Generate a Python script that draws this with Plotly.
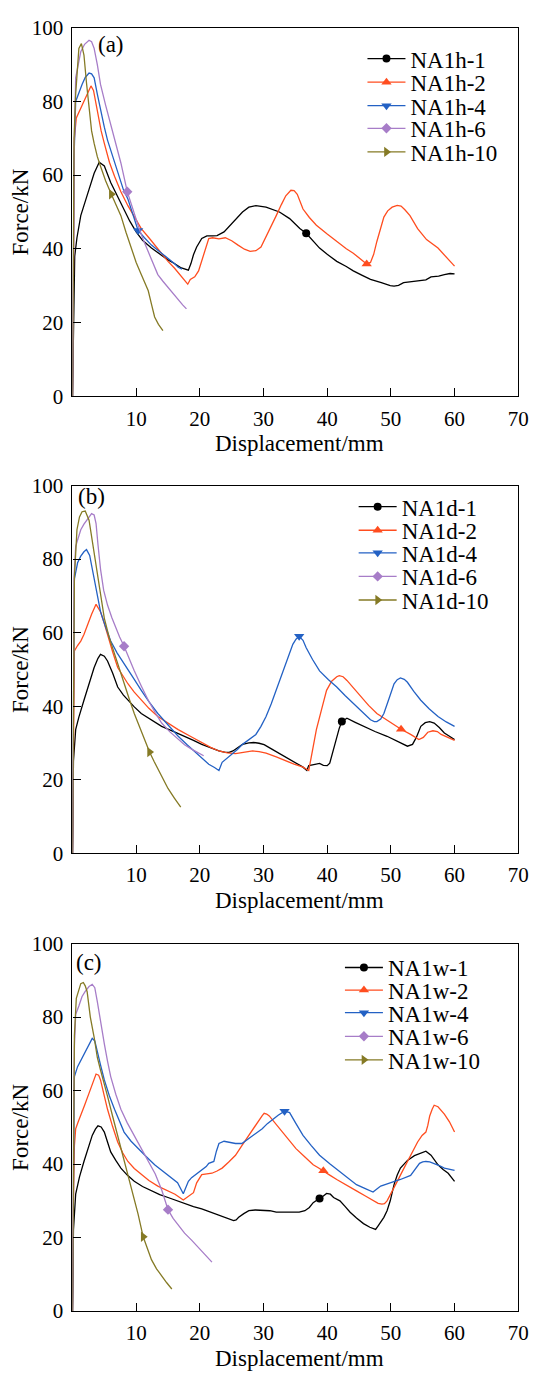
import plotly.graph_objects as go

# ---------------- data ----------------
panel_labels = ["(a)", "(b)", "(c)"]
names_a = ["NA1h-1", "NA1h-2", "NA1h-4", "NA1h-6", "NA1h-10"]
names_b = ["NA1d-1", "NA1d-2", "NA1d-4", "NA1d-6", "NA1d-10"]
names_c = ["NA1w-1", "NA1w-2", "NA1w-4", "NA1w-6", "NA1w-10"]

x_ticks = [10, 20, 30, 40, 50, 60, 70]
y_ticks = [0, 20, 40, 60, 80, 100]

# Panel (a)
a1_x = [0, 0.15, 0.35, 0.7, 1.3, 2.3, 3.4, 4.2, 5.0, 6.0, 7.0, 8.1, 9.0, 10.0, 11.0, 12.4, 13.5, 15.0, 16.0, 17.1, 18.2, 18.6, 19.0, 19.5, 20.3, 21.1, 22.0, 22.7, 23.8, 24.8, 25.6, 26.7, 27.7, 28.8, 30.4, 32.5, 34.1, 35.7, 36.7, 37.8, 38.8, 40.0, 41.5, 43.0, 44.1, 45.5, 46.8, 48.5, 49.9, 50.5, 51.2, 52.0, 53.5, 54.7, 55.5, 56.3, 57.5, 58.4, 59.3, 60.0]
a1_y = [0, 20, 38, 43, 49, 54.5, 60.5, 63.5, 62.5, 58, 54.5, 50.8, 47.5, 44.6, 42.3, 40.2, 38.8, 37, 36, 34.8, 34.2, 36, 38.4, 40.5, 42.8, 43.5, 43.5, 43.6, 44.6, 46.5, 48.2, 50, 51.3, 51.7, 51.3, 50, 48.2, 45.5, 44.2, 42, 40.2, 38.5, 36.6, 35.2, 34, 32.8, 31.7, 30.8, 30, 29.9, 30.1, 30.8, 31.2, 31.5, 31.6, 32.4, 32.6, 33, 33.3, 33.2]
a2_x = [0, 0.15, 0.3, 0.6, 1.0, 1.8, 2.4, 2.9, 3.3, 3.9, 4.5, 5.0, 5.8, 6.6, 7.6, 8.7, 9.8, 10.8, 12.0, 12.9, 14.0, 15.0, 16.0, 17.1, 18.1, 18.5, 19.2, 19.8, 20.3, 20.8, 21.4, 22.0, 23.0, 24.0, 25.0, 26.0, 27.0, 27.9, 28.8, 29.6, 30.4, 31.2, 32.0, 32.8, 33.5, 34.3, 34.8, 35.3, 36.2, 37.2, 38.3, 40.0, 41.5, 43.0, 44.1, 45.2, 46.2, 46.8, 47.3, 47.8, 48.4, 48.9, 49.5, 50.2, 51.0, 51.6, 52.2, 53.0, 54.2, 55.6, 57.4, 58.8, 60.0]
a2_y = [0, 35, 70, 75.5, 77, 79.7, 82, 84.2, 83, 77.5, 72, 68.6, 63.5, 59.7, 55.5, 51.7, 48.5, 45.5, 43, 41, 38.8, 36.6, 34.8, 32.6, 30.4, 31.7, 32.4, 34, 36.6, 39.5, 42.8, 43, 42.7, 43, 42.2, 41, 39.9, 39.3, 39.5, 40.5, 43.2, 46, 49, 52, 54.4, 55.9, 55.8, 54.8, 50.8, 48.5, 46.4, 44, 42, 40, 38.8, 37.3, 35.9, 36.3, 38.5, 42, 45.5, 48.6, 50.3, 51.3, 51.8, 51.6, 50.6, 49, 45.5, 42.5, 40.2, 37.7, 35.3]
a4_x = [0, 0.1, 0.25, 0.5, 1.0, 1.5, 2.0, 2.6, 3.0, 3.4, 3.9, 4.4, 5.0, 5.5, 6.3, 7.1, 8.0, 8.7, 9.5, 10.3, 11.3, 12.4, 13.5, 15.0, 16.0, 16.6, 17.2]
a4_y = [0, 30, 65, 80, 82.5, 84.6, 86.5, 87.7, 87.5, 86.4, 82, 77.5, 73, 69.5, 65, 60.6, 56, 53.5, 49, 45, 43, 41, 39.5, 37.5, 36, 35, 34.5]
a6_x = [0, 0.1, 0.3, 0.5, 0.9, 1.3, 1.9, 2.6, 3.0, 3.4, 3.9, 4.4, 5.2, 6.0, 6.8, 7.6, 8.6, 9.4, 10.3, 11.1, 11.9, 12.6, 13.4, 14.2, 15.0, 15.8, 16.6, 17.3, 17.9]
a6_y = [0, 30, 70, 86.4, 90.5, 93.5, 95.5, 96.6, 96.2, 94.4, 90, 84.6, 79, 74, 68.5, 63.3, 55.5, 51, 46.4, 42.5, 39.3, 36, 33, 31.2, 29.5, 28, 26, 24.8, 23.7]
a10_x = [0, 0.1, 0.25, 0.5, 0.8, 1.0, 1.4, 1.8, 2.2, 2.6, 3.0, 3.4, 3.9, 4.4, 5.2, 6.1, 7.6, 8.4, 9.2, 10.0, 10.8, 11.4, 11.9, 12.4, 12.9, 13.5, 14.2]
a10_y = [0, 35, 70, 82, 90, 94.4, 95.7, 92.6, 85, 77.5, 72, 68.6, 65, 62.4, 58.5, 54.8, 49, 44.5, 40.2, 36.3, 33, 30.8, 28.6, 25, 21.5, 19.5, 17.8]

# Panel (b)
b1_x = [0, 0.15, 0.5, 1.0, 1.8, 2.6, 3.4, 4.0, 4.4, 5.0, 5.5, 6.3, 7.1, 8.0, 8.7, 9.7, 10.8, 12.4, 14.0, 16.0, 17.7, 19.0, 20.3, 21.7, 23.0, 24.0, 24.6, 25.2, 25.6, 26.2, 26.7, 27.7, 28.5, 29.3, 30.1, 30.9, 32.2, 33.5, 34.8, 36.2, 36.8, 37.1, 37.7, 38.3, 38.8, 39.4, 40.0, 40.4, 40.7, 41.1, 41.5, 41.9, 42.3, 43.1, 44.4, 45.7, 47.5, 49.4, 51.0, 52.6, 53.4, 54.0, 54.7, 55.4, 56.1, 56.8, 57.6, 58.4, 59.2, 60.0]
b1_y = [0, 25, 33.6, 37, 41.6, 46, 50.5, 53, 54.1, 53.6, 52.3, 49, 45.2, 43, 41.6, 39.8, 38, 36.2, 34.5, 33, 31.8, 30.7, 29.6, 28.6, 27.8, 27.4, 27.4, 27.8, 28.3, 29, 29.6, 30, 30.1, 29.9, 29.5, 28.7, 27.4, 26, 24.7, 23.4, 22.5, 23.8, 24, 24.2, 24.4, 23.9, 23.8, 24.5, 26.5, 29, 31.8, 34, 35.8, 36.7, 35.6, 34.5, 33.1, 31.8, 30.5, 29.1, 29.6, 31.5, 34.5, 35.5, 35.8, 35.4, 34.2, 32.7, 31.8, 30.9]
b2_x = [0, 0.1, 0.3, 0.8, 1.3, 1.8, 2.3, 3.0, 3.7, 4.4, 5.0, 5.5, 6.3, 7.1, 8.0, 8.7, 9.7, 10.8, 12.0, 13.4, 15.0, 16.6, 18.5, 20.3, 21.7, 23.0, 24.3, 25.6, 27.0, 28.3, 29.3, 30.4, 32.0, 33.5, 34.8, 36.2, 37.1, 37.7, 38.3, 39.1, 39.9, 40.7, 41.5, 41.9, 42.5, 43.1, 44.2, 45.2, 46.5, 47.8, 49.6, 51.6, 53.1, 54.4, 55.1, 55.8, 56.6, 57.3, 57.9, 59.0, 60.0]
b2_y = [0, 30, 55, 56.5, 57.7, 59.5, 62, 65, 67.7, 65.7, 62.5, 59.4, 54.8, 50.5, 48, 46.1, 43.8, 41.6, 39.4, 37.2, 35.4, 33.6, 31.8, 30, 28.8, 27.8, 27.3, 27.1, 27.5, 27.8, 27.6, 27.2, 26.2, 25.1, 24.2, 23.4, 22.5, 28, 33.6, 39, 44.3, 46.8, 48, 48.3, 48, 47, 44.8, 42.5, 40.2, 38, 36, 33.7, 32.3, 30.9, 31.5, 32.9, 33.3, 33.1, 32.3, 31.5, 30.7]
b4_x = [0, 0.1, 0.3, 0.8, 1.3, 1.8, 2.2, 2.7, 3.1, 3.7, 4.4, 5.2, 6.0, 7.0, 8.1, 9.5, 10.8, 12.0, 13.4, 15.0, 16.6, 18.0, 19.3, 20.4, 21.4, 22.3, 23.0, 23.5, 24.3, 25.1, 25.9, 26.7, 27.7, 28.8, 29.6, 30.4, 31.2, 32.0, 32.8, 33.5, 34.1, 34.6, 35.1, 35.6, 36.2, 36.7, 37.7, 38.8, 40.2, 41.5, 42.8, 44.1, 45.5, 46.8, 47.4, 47.8, 48.4, 48.9, 49.7, 50.5, 51.0, 51.5, 52.1, 52.6, 53.6, 54.7, 56.0, 57.4, 58.7, 60.0]
b4_y = [0, 35, 74.6, 79, 80.8, 82, 82.6, 81, 77.3, 71.5, 65.7, 61.5, 57.7, 54.5, 51.4, 47.8, 44.3, 41.2, 38, 34.8, 31.8, 29.5, 27.4, 25.8, 24.2, 23.3, 22.5, 24.7, 25.8, 26.9, 28.2, 29.6, 31, 32.3, 34.5, 37.2, 40.6, 44.3, 47.9, 51.4, 54.3, 56.8, 58.2, 59, 57.9, 55.9, 52.7, 49.6, 47.2, 45.2, 42.9, 40.7, 38.5, 36.3, 35.8, 35.8, 36.5, 38, 42, 46.1, 47.2, 47.7, 47.3, 46.5, 44, 41.6, 39.3, 37.2, 35.7, 34.5]
b6_x = [0, 0.1, 0.25, 0.5, 0.9, 1.3, 1.8, 2.3, 3.0, 3.4, 3.7, 4.0, 4.4, 4.9, 5.5, 6.2, 6.8, 7.4, 8.1, 8.9, 9.7, 10.8, 11.9, 13.0, 14.0, 15.3, 16.6, 17.6, 18.7, 19.7, 20.6]
b6_y = [0, 40, 75, 83.5, 86, 88, 89.5, 90.6, 92.4, 92, 89.7, 84, 77.3, 71.5, 67.5, 64, 61.2, 58.8, 56.3, 52.8, 49.6, 45.5, 41.6, 38.2, 35.4, 33, 30.9, 29.5, 28.3, 27.3, 26.5]
b10_x = [0, 0.1, 0.3, 0.7, 1.1, 1.5, 2.0, 2.6, 3.1, 3.7, 4.3, 5.0, 5.8, 6.6, 7.4, 8.1, 8.9, 9.7, 10.5, 11.3, 12.1, 12.8, 13.4, 14.2, 15.0, 16.0, 17.0]
b10_y = [0, 40, 75, 88, 91.5, 92.9, 93.1, 90.6, 85, 78.2, 71, 63.9, 58.5, 54.1, 50, 46.1, 42, 38, 34.5, 30.9, 27.5, 25, 22.9, 20.2, 17.6, 15, 12.5]

# Panel (c)
c1_x = [0, 0.15, 0.5, 1.1, 1.8, 2.5, 3.1, 3.6, 4.0, 4.5, 5.0, 5.5, 6.0, 6.8, 7.6, 8.6, 9.7, 11.0, 12.4, 13.7, 15.0, 16.4, 17.7, 19.0, 20.3, 21.7, 23.0, 24.2, 25.3, 25.7, 26.1, 26.9, 27.7, 28.7, 29.8, 31.0, 32.0, 33.3, 34.6, 35.6, 36.5, 37.2, 37.8, 38.3, 38.8, 39.4, 39.9, 40.5, 41.0, 42.0, 42.8, 43.6, 44.6, 45.7, 46.7, 47.6, 48.0, 48.4, 48.9, 49.4, 49.9, 50.5, 51.0, 51.5, 52.6, 53.7, 54.6, 55.5, 56.3, 56.9, 57.4, 58.2, 59.0, 60.0]
c1_y = [0, 22, 31.8, 36.5, 40.7, 44.5, 47.8, 49.5, 50.4, 50.1, 48.7, 46, 43.3, 41, 38.9, 37, 35.3, 33.9, 32.7, 31.7, 30.9, 30, 29.1, 28.4, 27.8, 26.9, 26, 25.3, 24.6, 24.8, 25.5, 26.5, 27.3, 27.5, 27.5, 27.3, 26.9, 26.8, 26.9, 26.9, 27.3, 28.2, 29.5, 30.1, 30.6, 31.3, 32, 31.8, 30.9, 30, 28.5, 26.9, 25.3, 23.8, 22.8, 22.2, 23.2, 24.2, 25.5, 27.3, 30, 34.4, 37, 38.9, 41, 42.3, 43, 43.5, 42.4, 41, 39.8, 38.5, 37.5, 35.3]
c2_x = [0, 0.1, 0.3, 0.5, 0.9, 1.3, 1.9, 2.6, 3.2, 3.7, 4.1, 4.4, 5.0, 5.5, 6.3, 7.1, 7.9, 8.7, 9.7, 10.8, 12.0, 13.4, 14.8, 16.1, 17.4, 18.2, 19.0, 19.5, 20.3, 21.1, 21.9, 22.7, 23.5, 24.5, 25.6, 26.6, 27.7, 28.5, 29.3, 29.8, 30.1, 30.5, 30.9, 31.7, 32.5, 33.8, 35.1, 36.5, 37.8, 38.6, 39.4, 40.4, 41.5, 43.0, 44.6, 46.0, 47.3, 48.0, 48.6, 49.0, 49.4, 50.2, 51.0, 51.8, 52.6, 53.4, 54.2, 54.9, 55.5, 55.8, 56.1, 56.5, 56.8, 57.4, 58.4, 59.2, 60.0]
c2_y = [0, 25, 45, 49.6, 51.5, 53.1, 56, 59.3, 62.2, 64.5, 64.2, 62.9, 58.5, 54.9, 50.2, 46, 43, 40.7, 38.8, 37.1, 35.5, 34, 32.9, 31.8, 30.2, 31.3, 32.2, 34.9, 37.1, 37.3, 37.5, 38.1, 38.9, 40.5, 42.4, 45, 47.8, 50, 52.2, 53.2, 53.8, 53.6, 53.1, 51.4, 49.6, 46.8, 44.2, 41.9, 39.8, 39, 38.2, 37, 35.8, 34.2, 32.7, 31.3, 30, 29.3, 29.1, 29.2, 30, 32.5, 35.3, 38, 40.7, 43.3, 46, 47.8, 48.7, 50.5, 53.1, 55, 56, 55.6, 53.6, 51.5, 48.7]
c4_x = [0, 0.1, 0.3, 0.8, 1.3, 1.8, 2.3, 2.7, 3.1, 3.5, 3.9, 4.4, 5.0, 5.8, 6.6, 7.4, 8.1, 9.2, 10.3, 11.6, 12.9, 14.2, 15.6, 16.5, 17.4, 17.8, 18.2, 18.7, 19.3, 20.3, 21.0, 21.4, 22.2, 22.6, 23.0, 23.8, 24.7, 25.6, 26.6, 27.7, 28.8, 29.8, 30.6, 31.4, 32.3, 33.3, 34.1, 35.1, 36.2, 37.5, 38.8, 40.4, 42.0, 43.3, 44.6, 45.9, 47.2, 47.8, 48.4, 49.2, 50.0, 51.5, 53.1, 53.8, 54.5, 55.0, 55.5, 56.1, 56.8, 57.6, 58.4, 59.2, 60.0]
c4_y = [0, 35, 63.8, 66.5, 68.2, 70, 71.8, 73, 74.2, 73.5, 70.9, 67, 62.9, 58.5, 54.9, 51.5, 48.7, 46.2, 44.2, 42, 39.8, 38, 36.2, 34.9, 31.9, 33.5, 35.3, 36.3, 37.1, 38.2, 39.3, 40.2, 40.7, 43.5, 45.6, 46.2, 46, 45.6, 45.6, 46.9, 48.2, 49.6, 51, 52.2, 53.3, 54.4, 54, 51, 47.8, 45, 42.4, 40.1, 38, 36.2, 34.4, 33.4, 32.4, 33.2, 34, 34.5, 34.9, 35.8, 36.9, 38.5, 40.2, 40.6, 40.7, 40.6, 40.2, 39.6, 38.9, 38.6, 38.3]
c6_x = [0, 0.1, 0.3, 0.5, 1.0, 1.5, 2.0, 2.6, 3.1, 3.5, 3.9, 4.4, 5.0, 5.5, 6.0, 6.8, 7.6, 8.6, 9.7, 10.8, 11.9, 13.0, 14.0, 15.0, 15.8, 16.6, 17.6, 18.7, 19.8, 20.9, 21.9]
c6_y = [0, 40, 72, 80.7, 83, 85.6, 87, 88.3, 88.9, 88, 84.2, 78.5, 72.7, 68, 63.8, 59, 54.9, 51.2, 47.8, 44.2, 40.7, 37.3, 33.0, 27.6, 25.2, 23.3, 21.2, 19.3, 17.2, 15.2, 13.3]
c10_x = [0, 0.1, 0.3, 0.6, 1.0, 1.3, 1.7, 2.0, 2.3, 2.8, 3.4, 3.9, 4.4, 5.0, 5.5, 6.3, 7.1, 7.9, 8.7, 9.5, 10.3, 11.1, 11.8, 12.4, 13.2, 14.0, 14.8, 15.6]
c10_y = [0, 40, 75, 85.1, 87.5, 89.1, 89.4, 88.5, 86.9, 80, 74.5, 69, 65.6, 62, 58.5, 53, 47.8, 42.5, 37.1, 31.8, 26.4, 20.2, 17, 14, 11.5, 9.5, 7.7, 6]

# x value of the single marked point on each curve
marker_x_a = [36.7, 46.2, 10.3, 8.6, 6.1]
marker_x_b = [42.3, 51.6, 35.6, 8.1, 12.1]
marker_x_c = [38.8, 39.4, 33.3, 15.0, 11.1]

# ---------------- style ----------------
colors = ["#000000", "#FF4D1F", "#2361C4", "#A77DC8", "#857A25"]
symbols = ["circle", "triangle-up", "triangle-down", "diamond", "triangle-right"]
msizes = [8, 9, 9, 8, 9]
FONT = "Liberation Serif"
W, H = 540, 1383

panels = [
    (names_a, [(a1_x, a1_y), (a2_x, a2_y), (a4_x, a4_y), (a6_x, a6_y), (a10_x, a10_y)], marker_x_a),
    (names_b, [(b1_x, b1_y), (b2_x, b2_y), (b4_x, b4_y), (b6_x, b6_y), (b10_x, b10_y)], marker_x_b),
    (names_c, [(c1_x, c1_y), (c2_x, c2_y), (c4_x, c4_y), (c6_x, c6_y), (c10_x, c10_y)], marker_x_c),
]

# pixel geometry
plot_left, plot_right = 74, 529
panel_px = [(16, 391), (482, 856), (948, 1322)]   # top, bottom
legend_rows = [[47, 71, 95, 118, 142], [503, 527, 550, 574, 598], [972, 995, 1018, 1042, 1066]]
legend_left = [370, 361, 347]
label_pos = [(113, 33), (93, 493), (91, 967)]
LEG_FS = 23

def py(p):
    return 1 - p / H

fig = go.Figure()
layout = dict(width=W, height=H, margin=dict(l=0, r=0, t=0, b=0),
              paper_bgcolor="white", plot_bgcolor="white",
              font=dict(family=FONT, size=21, color="black"), annotations=[])

leg_n = 0
for p, (names, series, mxs) in enumerate(panels):
    sfx = "" if p == 0 else str(p + 1)
    xa, ya = "x" + sfx, "y" + sfx
    for s, ((xs, ys), name) in enumerate(zip(series, names)):
        fig.add_trace(go.Scatter(x=xs, y=ys, mode="lines", xaxis=xa, yaxis=ya,
                                 line=dict(color=colors[s], width=1.3),
                                 showlegend=False, hoverinfo="skip"))
        i = xs.index(mxs[s])
        leg_n += 1
        lid = "legend" if leg_n == 1 else "legend%d" % leg_n
        fig.add_trace(go.Scatter(x=[xs[i]], y=[ys[i]], mode="lines+markers", xaxis=xa, yaxis=ya,
                                 name=name, legend=lid,
                                 line=dict(color=colors[s], width=1.3),
                                 marker=dict(symbol=symbols[s], size=msizes[s], color=colors[s])))
        top = legend_rows[p][s] - (5 + (1.3 * LEG_FS + 3) / 2)
        layout[lid] = dict(x=legend_left[p] / W, xanchor="left", y=py(top), yanchor="top",
                           bgcolor="rgba(0,0,0,0)", borderwidth=0, itemwidth=38,
                           font=dict(family=FONT, size=LEG_FS, color="black"))
    t, b = panel_px[p]
    layout["xaxis" + sfx] = dict(domain=[plot_left / W, plot_right / W], anchor=ya, range=[0, 70],
                                 tickvals=x_ticks, ticks="inside", ticklen=8, tickwidth=1.2,
                                 tickcolor="black", showline=True, linecolor="black", linewidth=1.2,
                                 mirror=True, showgrid=False, zeroline=False, ticklabelstandoff=3,
                                 tickfont=dict(family=FONT, size=21))
    layout["yaxis" + sfx] = dict(domain=[py(b), py(t)], anchor=xa, range=[0, 100],
                                 tickvals=y_ticks, ticks="inside", ticklen=8, tickwidth=1.2,
                                 tickcolor="black", showline=True, linecolor="black", linewidth=1.2,
                                 mirror=True, showgrid=False, zeroline=False, ticklabelstandoff=4,
                                 tickfont=dict(family=FONT, size=21))
    layout["annotations"].append(dict(text="Force/kN", x=21 / W, y=py((t + b) / 2), xref="paper", yref="paper",
                                      textangle=-90, showarrow=False, xanchor="center", yanchor="middle",
                                      font=dict(family=FONT, size=23)))
    layout["annotations"].append(dict(text="Displacement/mm", x=306 / W, y=py(b + 48), xref="paper", yref="paper",
                                      showarrow=False, xanchor="center", yanchor="middle",
                                      font=dict(family=FONT, size=23)))
    lx, ly = label_pos[p]
    layout["annotations"].append(dict(text=panel_labels[p], x=lx / W, y=py(ly), xref="paper", yref="paper",
                                      showarrow=False, xanchor="center", yanchor="middle",
                                      font=dict(family=FONT, size=23)))

fig.update_layout(**layout)
fig.write_html("out.html")
